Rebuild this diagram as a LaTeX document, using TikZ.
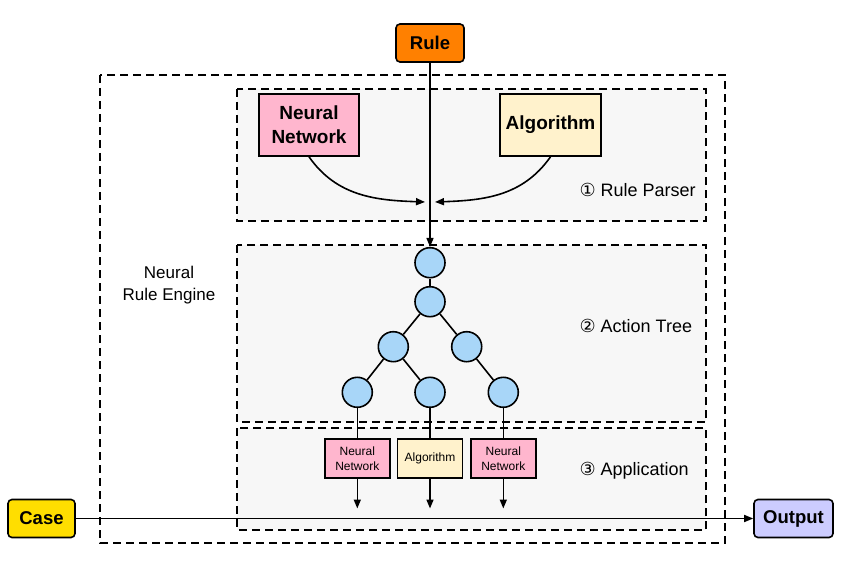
\documentclass[tikz,border=0pt]{standalone}
\usepackage{fontspec}
\setmainfont{Liberation Sans}
\newfontfamily\symfont{DejaVu Sans}
\usepackage{tikz}
\usetikzlibrary{arrows.meta,positioning}
\usepackage{xcolor}
\definecolor{rorange}{RGB}{255,128,0}
\definecolor{rpink}{RGB}{255,182,206}
\definecolor{ryellow}{RGB}{255,242,204}
\definecolor{rblue}{RGB}{168,214,248}
\definecolor{rgold}{RGB}{255,222,0}
\definecolor{rlilac}{RGB}{204,204,255}
\definecolor{rgray}{RGB}{247,247,247}
\tikzstyle{arrow} = [line width=1.6pt,-{Triangle[length=9pt,width=7pt]}]
\tikzstyle{link} = [line width=1.6pt]
\tikzstyle{stagebox} = [line width=1.8pt, dash pattern=on 8pt off 5pt, draw=black, fill=rgray]
\tikzstyle{bigbox} = [draw, line width=1.6pt, align=center, inner sep=0pt, minimum width=100pt, minimum height=62pt, font=\bfseries\fontsize{19}{24}\selectfont]
\tikzstyle{smallbox} = [draw, line width=1.6pt, align=center, inner sep=0pt, minimum width=65pt, minimum height=39pt, font=\fontsize{12}{15}\selectfont]
\tikzstyle{endbox} = [draw, line width=1.6pt, rounded corners=4pt, inner sep=0pt, minimum height=38pt, font=\bfseries\fontsize{18.5}{22}\selectfont]
\tikzstyle{treenode} = [circle, draw, fill=rblue, line width=1.6pt, minimum size=30pt, inner sep=0pt]
\tikzstyle{stagelabel} = [anchor=west, font=\fontsize{18}{22}\selectfont]

\begin{document}
\begin{tikzpicture}[x=1pt,y=-1pt]
\useasboundingbox (0,0) rectangle (854,572);

% Frames
\draw[line width=1.8pt, dash pattern=on 8pt off 5pt] (100,75) rectangle (725,543);
\draw[stagebox] (237,89) rectangle (706,221);
\draw[stagebox] (237,245) rectangle (706,422);
\draw[stagebox] (237,428) rectangle (706,530);

% Nodes
\node[endbox, fill=rorange, minimum width=68pt] (rule) at (430,43) {Rule};
\node[bigbox, fill=rpink] (nn) at (309,125) {Neural\\Network};
\node[bigbox, fill=ryellow, minimum width=101pt] (alg) at (550.5,125) {Algorithm};
\node[endbox, fill=rgold, minimum width=67pt] (case) at (41.5,518.5) {Case};
\node[endbox, fill=rlilac, minimum width=79pt] (output) at (793.5,518.5) {Output};

\node[treenode] (t1) at (430,262.7) {};
\node[treenode] (t2) at (430,301.7) {};
\node[treenode] (t3) at (393.3,346.7) {};
\node[treenode] (t4) at (466.7,346.7) {};
\node[treenode] (t5) at (357.3,392.3) {};
\node[treenode] (t6) at (430,392.3) {};
\node[treenode] (t7) at (503.3,392.3) {};

\node[smallbox, fill=rpink] (nn1) at (357.3,458.7) {Neural\\Network};
\node[smallbox, fill=ryellow] (alg1) at (430,458.7) {Algorithm};
\node[smallbox, fill=rpink] (nn2) at (503.3,458.7) {Neural\\Network};

\coordinate (pl) at (425,202);
\coordinate (pr) at (435,202);
\coordinate (o1) at (357.3,508.5);
\coordinate (o2) at (430,508.5);
\coordinate (o3) at (503.3,508.5);

% Labels
\node[align=center, font=\fontsize{17}{22.4}\selectfont] (engine) at (169,285) {Neural\\Rule Engine};
\node[stagelabel] (parser) at (576,190) {{\symfont ①} Rule Parser};
\node[stagelabel] (tree) at (576,326) {{\symfont ②} Action Tree};
\node[stagelabel] (apply) at (576,471) {{\symfont ③} Application};

% Rule parser
\draw[arrow] (rule) -- (t1);
\draw[arrow] (nn.south) to[out=-55,in=178] (pl);
\draw[arrow] (alg.south) to[out=-125,in=2] (pr);

% Tree edges
\draw[link] (t1) -- (t2);
\draw[link] (t2) -- (t3);
\draw[link] (t2) -- (t4);
\draw[link] (t3) -- (t5);
\draw[link] (t3) -- (t6);
\draw[link] (t4) -- (t7);
\draw[link] (t5) -- (nn1);
\draw[link] (t6) -- (alg1);
\draw[link] (t7) -- (nn2);

% Application
\draw[arrow] (nn1) -- (o1);
\draw[arrow] (alg1) -- (o2);
\draw[arrow] (nn2) -- (o3);
\draw[arrow] (case) -- (output);
\end{tikzpicture}
\end{document}
